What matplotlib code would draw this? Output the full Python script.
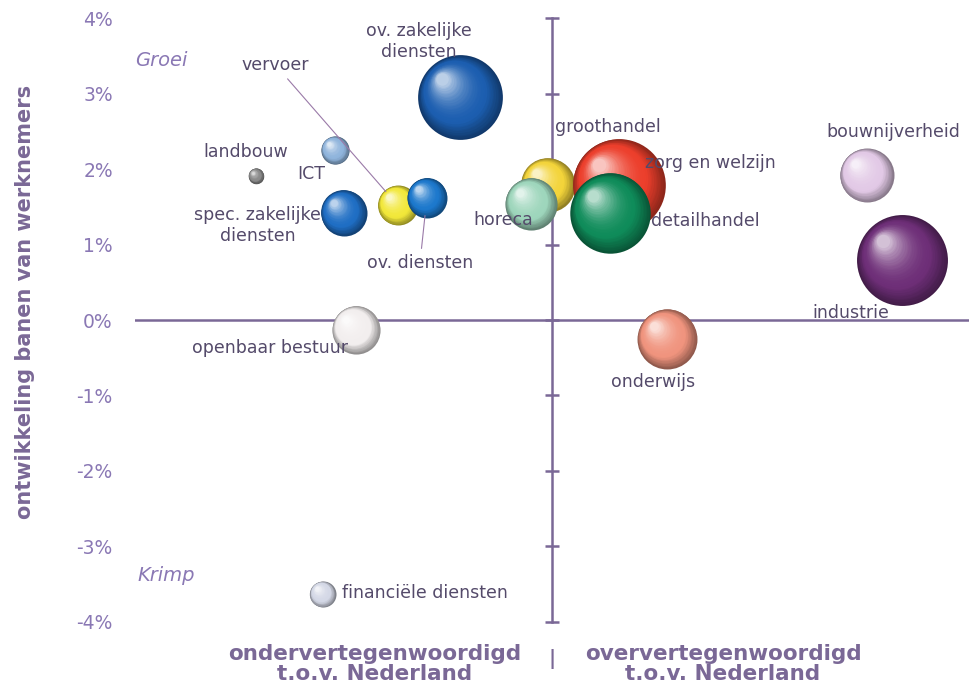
import numpy as np
import matplotlib.pyplot as plt
from matplotlib.colors import to_rgb
from matplotlib.transforms import offset_copy, blended_transform_factory

# sectoren: relatieve vertegenwoordiging t.o.v. Nederland (x), groei banen in % (y), omvang (bolgrootte)
sectoren = ["ov. zakelijke\ndiensten", "landbouw", "ICT", "spec. zakelijke\ndiensten", "vervoer",
            "ov. diensten", "groothandel", "horeca", "zorg en welzijn", "detailhandel",
            "bouwnijverheid", "industrie", "onderwijs", "openbaar bestuur", "financiële diensten"]
vertegenw = [-0.22, -0.71, -0.52, -0.50, -0.37, -0.30, -0.01, -0.05, 0.16, 0.14,
             0.755, 0.84, 0.276, -0.47, -0.55]
groei = [2.95, 1.91, 2.25, 1.42, 1.52, 1.62, 1.79, 1.54, 1.79, 1.42,
         1.92, 0.79, -0.25, -0.13, -3.63]
omvang = [180, 6, 20, 53, 40, 40, 73, 68, 215, 162, 73, 207, 90, 58, 17]
kleuren = ["#1c5eb0", "#8a8a8a", "#8fb4dc", "#1f6ec4", "#f2e83a", "#1c78cc", "#f3d43a",
           "#9ed6bc", "#ec3f2c", "#0f8c5a", "#e2c9e6", "#6e2f78", "#f0947e", "#f2eeee", "#d4d8e6"]
yticks = [4, 3, 2, 1, 0, -1, -2, -3, -4]

# label offsets (points) relative to bubble
label_pos = {
    "ov. zakelijke\ndiensten": (-30, 40, "center"),
    "landbouw": (-7, 17, "center"),
    "ICT": (-17, -17, "center"),
    "spec. zakelijke\ndiensten": (-62, -9, "center"),
    "vervoer": (-88, 101, "center"),
    "ov. diensten": (-5, -47, "center"),
    "groothandel": (43, 42, "center"),
    "horeca": (-20, -12, "center"),
    "zorg en welzijn": (66, 16, "center"),
    "detailhandel": (68, -6, "center"),
    "bouwnijverheid": (19, 31, "center"),
    "industrie": (-37, -38, "center"),
    "onderwijs": (-10, -31, "center"),
    "openbaar bestuur": (-62, -13, "center"),
    "financiële diensten": (14, 1, "left"),
}
leaders = ["vervoer", "ov. diensten"]

axcol = "#7a6896"
tickcol = "#8a78b4"
txtcol = "#544a6a"

fig = plt.figure(figsize=(9.69, 6.87), dpi=100)
ax = fig.add_axes([135/969, 62/687, 834/969, 610/687])
ax.set_xlim(-1.0, 1.0)
ax.set_ylim(-4.04, 4.04)
for sp in ax.spines.values():
    sp.set_visible(False)
ax.set_xticks([])
ax.set_yticks(yticks)
ax.set_yticklabels([f"{t}%" for t in yticks], color=tickcol, fontsize=13.5)
ax.tick_params(axis="y", length=0, pad=16)

# assen
ax.axhline(0, color=axcol, lw=1.8, zorder=1)
ax.plot([0, 0], [-4, 4], color=axcol, lw=1.8, zorder=1)
ax.plot(np.zeros(len(yticks)), yticks, ls="none", marker="_", ms=10, mew=1.8, color=axcol, zorder=1)

# bollen met schaduw
def bol(x, y, s, col, z):
    base = np.array(to_rgb(col))
    r = np.sqrt(s) / 2
    n = 32
    for i in range(n):
        f = 1 - i / n * 0.88
        t = i / (n - 1)
        if t < 0.3:
            c = base * (0.6 + 0.4 * t / 0.3)
        else:
            c = base + (1 - base) * ((t - 0.3) / 0.7) ** 2 * 0.7
        d = (1 - f) * r * 0.5
        tr = offset_copy(ax.transData, fig=fig, x=-d, y=d, units="points")
        ax.scatter([x], [y], s=s * f ** 2, color=np.clip(c, 0, 1), lw=0, transform=tr, zorder=z)

for k, (naam, x, y, o, col) in enumerate(zip(sectoren, vertegenw, groei, omvang, kleuren)):
    s = o * 20.7
    bol(x, y, s, col, 3 + k)
    dx, dy, ha = label_pos[naam]
    r = np.sqrt(s) / 2
    if naam in leaders:
        ax.annotate(naam, (x, y), xytext=(dx, dy), textcoords="offset points", ha=ha, va="center",
                    fontsize=12.5, color=txtcol, zorder=30,
                    arrowprops=dict(arrowstyle="-", color="#9a7aa8", lw=0.8, shrinkA=2, shrinkB=r * 0.9))
    else:
        ax.annotate(naam, (x, y), xytext=(dx, dy), textcoords="offset points", ha=ha, va="center",
                    fontsize=12.5, color=txtcol, zorder=30, linespacing=1.2)

ax.text(-0.937, 3.44, "Groei", style="italic", fontsize=14, color=tickcol, ha="center", va="center")
ax.text(-0.926, -3.39, "Krimp", style="italic", fontsize=14, color=tickcol, ha="center", va="center")

bt = blended_transform_factory(ax.transData, ax.transAxes)
ax.text(-0.425, -0.064, "ondervertegenwoordigd\nt.o.v. Nederland", transform=bt, ha="center", va="center",
        fontsize=15.5, fontweight="bold", color="#7a6896", linespacing=1.05)
ax.text(0.41, -0.064, "oververtegenwoordigd\nt.o.v. Nederland", transform=bt, ha="center", va="center",
        fontsize=15.5, fontweight="bold", color="#7a6896", linespacing=1.05)
ax.text(0, -0.055, "|", transform=bt, ha="center", va="center", fontsize=14, fontweight="bold", color="#7a6896")

fig.text(25/969, 0.56, "ontwikkeling banen van werknemers", rotation=90, ha="center", va="center",
         fontsize=15, fontweight="bold", color="#7a6896")

fig.savefig("out.png", dpi=100)
